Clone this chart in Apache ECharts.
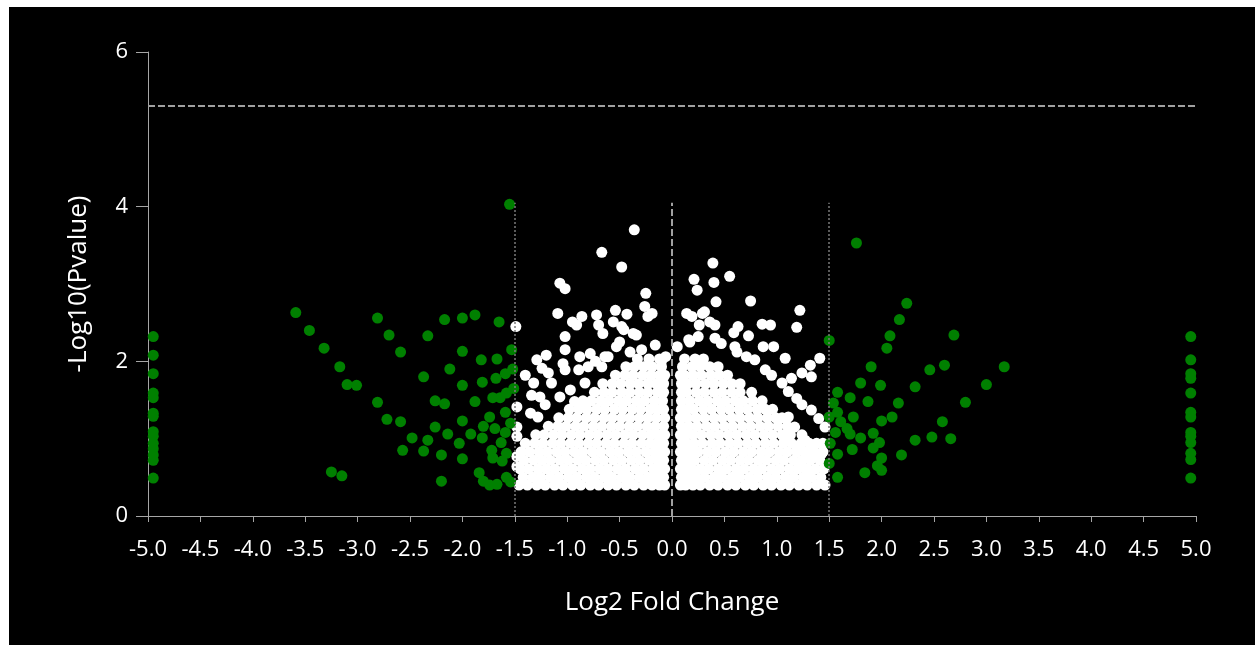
<!DOCTYPE html>
<html><head><meta charset="utf-8">
<script src="https://cdn.jsdelivr.net/npm/echarts@6/dist/echarts.min.js"></script>
<style>
html,body{margin:0;padding:0;background:#fff;width:1255px;height:645px;overflow:hidden}
#c{position:absolute;left:9px;top:7px;width:1246px;height:638px;background:#000}
</style></head><body><div id="c"></div>
<script>
// ---- data ----
const xRange = [-5, 5];
const yRange = [0, 6];
const pThreshold = 5.3;          // horizontal dashed line
const fcLines = [-1.5, 0, 1.5];  // vertical reference lines
const fcLineTop = 4.05;

// green: significant fold change
const greenLeftColumn = [2.32,2.08,1.84,1.59,1.53,1.33,1.29,1.09,1.03,0.94,0.87,0.79,0.72,0.49];
const greenRightColumn = [2.32,2.02,1.84,1.78,1.59,1.34,1.28,1.08,1.03,0.95,0.81,0.73,0.49];
const greenLeft = [[-3.59,2.63],[-3.46,2.40],[-3.32,2.17],[-3.17,1.93],[-3.10,1.70],[-3.01,1.69],[-2.81,2.56],[-2.70,2.34],[-2.59,2.12],[-2.81,1.47],[-2.72,1.25],[-2.59,1.22],[-2.48,1.01],[-2.57,0.85],[-2.37,0.84],[-2.33,0.98],[-2.33,2.33],[-2.37,1.80],[-2.26,1.49],[-2.17,1.45],[-2.26,1.15],[-2.14,1.06],[-2.20,0.79],[-2.20,0.45],[-3.25,0.57],[-3.15,0.52],[-2.17,2.54],[-2.00,2.56],[-1.88,2.60],[-1.65,2.51],[-2.00,2.13],[-2.12,1.90],[-1.82,2.02],[-1.67,2.03],[-1.53,2.15],[-2.00,1.69],[-1.81,1.73],[-1.68,1.78],[-1.59,1.84],[-1.52,1.90],[-1.51,1.65],[-1.71,1.53],[-1.64,1.53],[-1.58,1.59],[-1.88,1.48],[-2.00,1.23],[-1.74,1.28],[-1.59,1.34],[-1.80,1.16],[-1.69,1.13],[-1.59,1.08],[-1.54,1.20],[-1.92,1.06],[-1.81,1.01],[-2.03,0.94],[-1.63,0.95],[-1.72,0.85],[-1.58,0.81],[-1.71,0.75],[-1.62,0.71],[-2.00,0.74],[-1.84,0.56],[-1.80,0.45],[-1.74,0.40],[-1.67,0.41],[-1.58,0.50],[-1.54,0.44],[-1.55,4.03]];
const greenRight = [[1.76,3.53],[2.24,2.75],[2.17,2.54],[2.08,2.33],[2.05,2.17],[2.69,2.34],[1.50,2.27],[1.90,1.93],[3.17,1.93],[2.60,1.95],[2.46,1.89],[1.80,1.72],[1.99,1.69],[2.32,1.67],[3.00,1.70],[1.58,1.60],[1.70,1.53],[1.87,1.48],[2.16,1.46],[2.80,1.47],[1.54,1.46],[1.58,1.34],[1.73,1.28],[2.00,1.23],[2.10,1.28],[2.58,1.22],[1.50,1.28],[1.61,1.22],[1.67,1.13],[1.70,1.06],[1.56,1.08],[1.92,1.07],[1.80,1.01],[1.98,0.95],[1.92,0.88],[1.51,0.94],[1.72,0.86],[2.32,0.98],[2.48,1.02],[2.66,1.00],[1.58,0.80],[2.00,0.75],[2.19,0.79],[1.96,0.65],[2.00,0.59],[1.84,0.56],[1.58,0.50],[1.50,0.68]];

// white: not significant - dense core, listed row by row (y, x values)
const whiteRowY = [0.40,0.50,0.61,0.72,0.83,0.94,1.05,1.16,1.27,1.38,1.49,1.60,1.71,1.82,1.93,2.03];
const whiteRowX = [
 [-1.46,-1.38,-1.29,-1.21,-1.12,-1.04,-0.95,-0.87,-0.78,-0.70,-0.61,-0.53,-0.44,-0.36,-0.27,-0.19,-0.12,-0.07,0.08,0.13,0.20,0.27,0.36,0.44,0.53,0.61,0.70,0.78,0.87,0.95,1.04,1.12,1.21,1.29,1.38,1.46],
 [-1.42,-1.33,-1.25,-1.16,-1.08,-0.99,-0.91,-0.82,-0.74,-0.65,-0.57,-0.48,-0.40,-0.31,-0.23,-0.15,-0.08,0.09,0.16,0.23,0.31,0.40,0.48,0.57,0.65,0.74,0.82,0.91,0.99,1.08,1.16,1.25,1.33,1.42],
 [-1.45,-1.37,-1.28,-1.20,-1.12,-1.03,-0.95,-0.86,-0.78,-0.69,-0.61,-0.52,-0.44,-0.35,-0.27,-0.18,-0.12,-0.07,0.08,0.13,0.19,0.27,0.35,0.44,0.52,0.61,0.69,0.78,0.86,0.95,1.03,1.12,1.20,1.28,1.37,1.45],
 [-1.41,-1.32,-1.24,-1.16,-1.07,-0.99,-0.90,-0.82,-0.73,-0.65,-0.56,-0.48,-0.39,-0.31,-0.22,-0.14,-0.08,0.09,0.15,0.22,0.31,0.39,0.48,0.56,0.65,0.73,0.82,0.90,0.99,1.07,1.16,1.24,1.32,1.41],
 [-1.44,-1.36,-1.27,-1.19,-1.10,-1.02,-0.93,-0.85,-0.76,-0.68,-0.59,-0.51,-0.42,-0.34,-0.25,-0.17,-0.11,-0.07,0.08,0.12,0.18,0.25,0.34,0.42,0.51,0.59,0.68,0.76,0.85,0.93,1.02,1.10,1.19,1.27,1.36,1.44],
 [-1.40,-1.31,-1.23,-1.14,-1.06,-0.97,-0.89,-0.80,-0.72,-0.63,-0.55,-0.46,-0.38,-0.29,-0.21,-0.14,-0.08,0.09,0.14,0.21,0.29,0.38,0.46,0.55,0.63,0.72,0.80,0.89,0.97,1.06,1.14,1.23,1.31,1.38],
 [-1.30,-1.22,-1.13,-1.05,-0.96,-0.88,-0.79,-0.71,-0.62,-0.54,-0.45,-0.37,-0.28,-0.20,-0.13,-0.07,0.08,0.13,0.20,0.28,0.37,0.45,0.54,0.62,0.71,0.79,0.88,0.96,1.05,1.13,1.24],
 [-1.18,-1.09,-1.01,-0.92,-0.84,-0.75,-0.67,-0.58,-0.50,-0.41,-0.33,-0.24,-0.16,-0.08,0.09,0.16,0.24,0.33,0.41,0.50,0.58,0.67,0.75,0.84,0.92,1.01,1.10],
 [-1.08,-0.99,-0.91,-0.82,-0.74,-0.65,-0.57,-0.48,-0.40,-0.31,-0.23,-0.15,-0.07,0.08,0.15,0.23,0.31,0.40,0.48,0.57,0.65,0.74,0.82,0.91,0.99,1.05],
 [-0.98,-0.89,-0.81,-0.72,-0.64,-0.55,-0.47,-0.38,-0.30,-0.21,-0.14,-0.08,0.09,0.14,0.21,0.30,0.38,0.47,0.55,0.64,0.72,0.81,0.89,0.96],
 [-0.85,-0.77,-0.68,-0.60,-0.51,-0.43,-0.34,-0.26,-0.17,-0.09,0.09,0.17,0.26,0.34,0.43,0.51,0.60,0.68,0.77,0.86],
 [-0.74,-0.65,-0.57,-0.48,-0.40,-0.31,-0.23,-0.14,-0.08,0.09,0.14,0.23,0.31,0.40,0.48,0.57,0.65,0.76],
 [-0.66,-0.57,-0.49,-0.40,-0.32,-0.23,-0.15,-0.08,0.09,0.15,0.23,0.32,0.40,0.49,0.57,0.65],
 [-0.54,-0.45,-0.37,-0.28,-0.20,-0.12,-0.07,0.08,0.12,0.20,0.28,0.37,0.45,0.53],
 [-0.44,-0.36,-0.27,-0.19,-0.10,0.10,0.19,0.27,0.36,0.44],
 [-0.33,-0.22,-0.12,0.12,0.22,0.30]
];
// white: scattered points around the core
const whiteScatter = [[-0.36,3.70],[-0.67,3.41],[-0.48,3.22],[-1.07,3.01],[-1.02,2.94],[-0.25,2.88],[0.39,3.27],[0.55,3.10],[0.21,3.06],[0.40,3.02],[0.24,2.92],[0.42,2.77],[0.75,2.78],[1.22,2.66],[1.19,2.44],[-1.49,2.45],[-1.09,2.62],[-0.86,2.58],[-0.72,2.60],[-0.54,2.66],[-0.43,2.61],[-0.26,2.71],[-0.19,2.62],[-0.95,2.51],[-0.91,2.47],[-1.02,2.32],[-0.70,2.47],[-0.66,2.36],[-0.56,2.51],[-0.46,2.41],[-0.37,2.36],[-0.23,2.58],[-0.48,2.45],[-0.34,2.34],[0.14,2.62],[0.29,2.62],[0.36,2.51],[0.26,2.47],[0.63,2.45],[0.73,2.33],[0.86,2.48],[0.94,2.47],[0.59,2.37],[0.16,2.28],[0.05,2.19],[0.97,2.19],[0.87,2.19],[1.08,2.04],[1.41,2.04],[0.19,2.58],[0.31,2.64],[0.41,2.47],[0.17,2.25],[0.25,2.32],[0.41,2.30],[0.47,2.23],[0.60,2.19],[0.71,2.06],[0.62,2.12],[0.79,2.02],[1.32,1.95],[1.24,1.85],[1.14,1.78],[1.33,1.80],[0.89,1.89],[0.95,1.82],[1.05,1.72],[1.11,1.61],[1.19,1.52],[1.24,1.44],[1.33,1.37],[1.40,1.26],[1.46,1.15],[1.44,0.94],[1.43,0.81],[1.33,0.77],[1.30,0.60],[1.21,0.64],[1.11,1.28],[1.17,1.15],[1.08,1.03],[1.27,0.98],[1.19,0.85],[1.33,0.88],[-1.02,2.15],[-1.29,2.02],[-1.20,2.08],[-1.04,1.97],[-1.02,1.89],[-0.88,2.06],[-0.78,2.10],[-0.73,2.00],[-0.64,2.06],[-0.53,2.19],[-0.50,2.25],[-0.40,2.12],[-0.29,2.15],[-0.16,2.21],[-0.10,2.00],[-0.06,2.06],[-1.40,1.82],[-1.32,1.72],[-1.24,1.91],[-1.18,1.85],[-1.15,1.72],[-1.48,1.41],[-1.48,1.15],[-1.48,1.03],[-1.48,0.77],[-1.48,0.64],[-1.34,1.56],[-1.26,1.54],[-1.21,1.44],[-1.35,1.33],[-1.28,1.28],[-1.07,1.54],[-0.97,1.63],[-0.93,1.48],[-0.83,1.72],[-0.89,1.89],[-0.80,1.93],[-0.67,1.93],[-0.61,2.06]];

// ---- build series data ----
const whiteData = [];
whiteRowY.forEach((y, i) => whiteRowX[i].forEach(x => whiteData.push([x, y])));
whiteScatter.forEach(p => whiteData.push(p));
const greenData = greenLeft.concat(greenRight)
  .concat(greenLeftColumn.map(y => [-4.95, y]))
  .concat(greenRightColumn.map(y => [4.95, y]));

const FONT = 'Open Sans';
const chart = echarts.init(document.getElementById('c'));
chart.setOption({
  animation: false,
  backgroundColor: '#000',
  grid: {left: 139, right: 59, top: 45, bottom: 129},
  xAxis: {
    type: 'value', min: xRange[0], max: xRange[1], interval: 0.5,
    name: 'Log2 Fold Change', nameLocation: 'middle', nameGap: 74,
    nameTextStyle: {color: '#fff', fontFamily: FONT, fontSize: 26},
    axisLine: {onZero: false, lineStyle: {color: '#a6a6a6', width: 1}},
    axisTick: {show: true, length: 6, lineStyle: {color: '#a6a6a6'}},
    axisLabel: {color: '#fff', fontFamily: FONT, fontSize: 22, margin: 23,
      formatter: v => v.toFixed(1)},
    splitLine: {show: false}
  },
  yAxis: {
    type: 'value', min: yRange[0], max: yRange[1], interval: 2,
    name: '-Log10(Pvalue)', nameLocation: 'middle', nameGap: 56,
    nameTextStyle: {color: '#fff', fontFamily: FONT, fontSize: 26},
    axisLine: {show: true, onZero: false, lineStyle: {color: '#a6a6a6', width: 1}},
    axisTick: {show: true, length: 12, lineStyle: {color: '#a6a6a6'}},
    axisLabel: {color: '#fff', fontFamily: FONT, fontSize: 22, margin: 20},
    splitLine: {show: false}
  },
  series: [
    {
      type: 'scatter', data: whiteData, symbolSize: 11,
      itemStyle: {color: '#ffffff', opacity: 1}, silent: true,
      markLine: {
        silent: true, symbol: 'none', label: {show: false}, animation: false,
        data: [
          [{coord: [xRange[0], pThreshold], lineStyle: {color: '#a0a0a0', width: 2, type: [7, 3]}},
           {coord: [xRange[1], pThreshold]}],
          [{coord: [fcLines[0], 0], lineStyle: {color: '#7a7a7a', width: 1.5, type: [2, 2]}},
           {coord: [fcLines[0], fcLineTop]}],
          [{coord: [fcLines[1], 0], lineStyle: {color: '#a0a0a0', width: 2, type: [7, 3]}},
           {coord: [fcLines[1], fcLineTop]}],
          [{coord: [fcLines[2], 0], lineStyle: {color: '#7a7a7a', width: 1.5, type: [2, 2]}},
           {coord: [fcLines[2], fcLineTop]}]
        ]
      }
    },
    {
      type: 'scatter', data: greenData, symbolSize: 11,
      itemStyle: {color: '#008000', opacity: 1}, silent: true
    }
  ]
});
</script></body></html>
